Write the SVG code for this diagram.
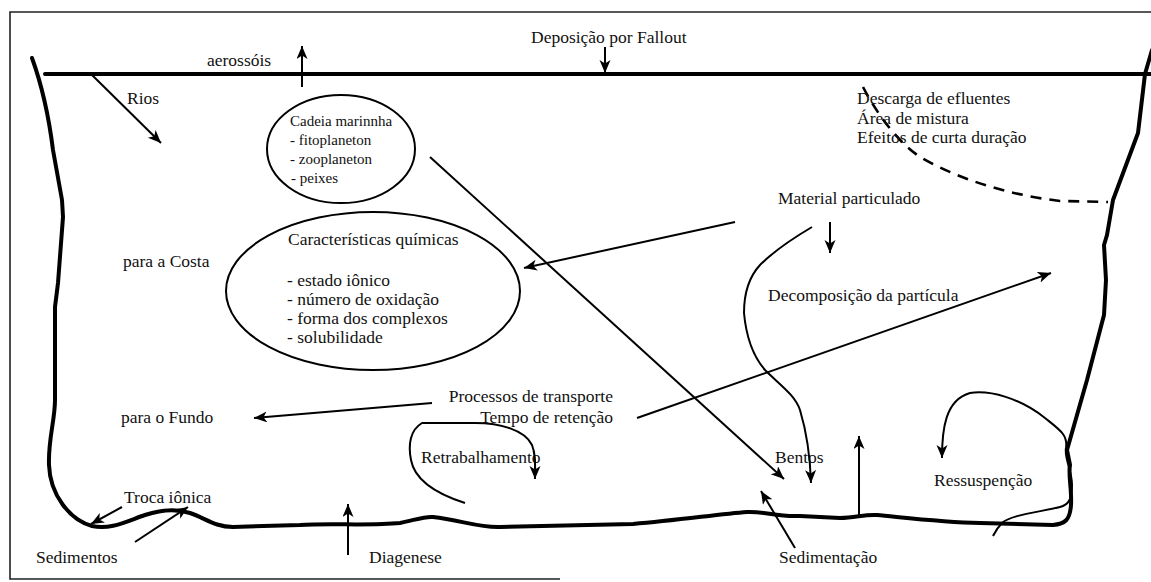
<svg xmlns="http://www.w3.org/2000/svg" width="1151" height="582" viewBox="0 0 1151 582">
<style>
text{font-family:"Liberation Serif","Times New Roman",serif;font-size:17.5px;fill:#111}
.sm{font-size:15px}
.frame{fill:none;stroke:#222;stroke-width:1.6}
.thick{fill:none;stroke:#000;stroke-width:4;stroke-linejoin:round;stroke-linecap:round}
.thin{fill:none;stroke:#000;stroke-width:2}
.arr{fill:none;stroke:#000;stroke-width:2;marker-end:url(#ah)}
.node{fill:none;stroke:#000;stroke-width:2}
.dash{fill:none;stroke:#000;stroke-width:2.6;stroke-dasharray:11 8}
</style>
<defs>
<marker id="ah" markerUnits="userSpaceOnUse" markerWidth="14" markerHeight="12" refX="13" refY="5.5" orient="auto" viewBox="0 0 14 12">
<path d="M0,0 L13,5.5 L0,11 L3.5,5.5 z" fill="#000"/>
</marker>
</defs>
<rect width="1151" height="582" fill="#fff"/>
<g id="frame">
<path class="frame" d="M1151,12 H10 V579 H560"/>
</g>
<g id="surface">
<line class="thick" x1="45" y1="74" x2="1151" y2="74"/>
</g>
<g id="shore">
<path class="thick" d="M32,58 C40,80 48,110 53,150 L62,200 L63,217 L58,283 L55,307 L55,400 C55,420 48,440 49,465 C50,495 70,520 92,526 C110,530 125,522 145,515 C160,510 175,508 190,513 C205,518 215,527 233,527 L300,525 C330,523 370,526 400,523 C415,520 425,516 433,517 C460,520 480,528 500,527 L633,524 C680,520 720,514 747,512 C765,511 775,517 800,516 L840,518 C855,518 865,514 877,515 C900,517 940,522 980,523 L1053,525 C1065,524 1070,520 1071,505 C1072,490 1068,475 1070,465 L1067,450 L1087,380 L1104,315 L1106,280 L1104,245 L1107,235 L1113,200 L1138,133 L1145,74 L1152,50"/>
</g>
<g id="mixing-zone">
<path class="dash" d="M863,87 C875,110 895,140 920,157 C960,180 1010,195 1060,201 L1108,202"/>
</g>
<g id="node-cadeia">
<ellipse class="node" cx="341" cy="149" rx="74" ry="54"/>
<text class="sm" x="290" y="126">Cadeia marinnha</text>
<text class="sm" x="290" y="145">- fitoplaneton</text>
<text class="sm" x="290" y="164">- zooplaneton</text>
<text class="sm" x="291" y="183">- peixes</text>
</g>
<g id="node-quimicas">
<ellipse class="node" cx="373" cy="291" rx="147" ry="79"/>
<text x="288" y="245">Características químicas</text>
<text x="287" y="286">- estado iônico</text>
<text x="287" y="305">- número de oxidação</text>
<text x="287" y="324">- forma dos complexos</text>
<text x="287" y="343">- solubilidade</text>
</g>
<g id="labels">
<text x="531" y="43">Deposição por Fallout</text>
<text x="207" y="66">aerossóis</text>
<text x="127" y="104">Rios</text>
<text x="857" y="104">Descarga de efluentes</text>
<text x="857" y="124">Área de mistura</text>
<text x="857" y="143">Efeitos de curta duração</text>
<text x="778" y="204">Material particulado</text>
<text x="123" y="267">para a Costa</text>
<text x="768" y="301">Decomposição da partícula</text>
<text x="613" y="402" text-anchor="end">Processos de transporte</text>
<text x="613" y="423" text-anchor="end">Tempo de retenção</text>
<text x="121" y="423">para o Fundo</text>
<text x="421" y="463">Retrabalhamento</text>
<text x="775" y="463">Bentos</text>
<text x="934" y="486">Ressuspenção</text>
<text x="124" y="503">Troca iônica</text>
<text x="36" y="563">Sedimentos</text>
<text x="369" y="563">Diagenese</text>
<text x="779" y="563">Sedimentação</text>
</g>
<g id="connectors">
<line class="arr" x1="302" y1="87" x2="302" y2="46"/>
<line class="arr" x1="605" y1="47" x2="605" y2="73"/>
<line class="arr" x1="92" y1="75" x2="161" y2="143"/>
<line class="arr" x1="430" y1="157" x2="784" y2="479"/>
<line class="arr" x1="735" y1="222" x2="524" y2="268"/>
<line class="arr" x1="830" y1="222" x2="830" y2="253"/>
<line class="arr" x1="432" y1="403" x2="254" y2="418"/>
<line class="arr" x1="637" y1="418" x2="1051" y2="273"/>
<path class="arr" d="M812,227 C790,240 770,255 760,265 C748,278 744,295 744,313 C746,335 752,355 765,370 C780,385 795,395 800,410 C806,430 810,450 811,483"/>
<path class="arr" d="M465,503 C440,495 415,482 411,460 C408,445 410,430 422,423 L475,423 C500,423 525,430 532,445 C536,455 535,465 535,479"/>
<path class="arr" d="M993,536 C995,532 997,528 1002,523 C1010,515 1040,512 1060,507 C1068,505 1072,500 1072,485 C1072,470 1064,458 1066,448 C1068,435 1060,430 1045,418 C1020,398 990,390 970,393 C945,400 942,430 942,458"/>
<line class="arr" x1="859" y1="517" x2="859" y2="436"/>
<line class="arr" x1="795" y1="548" x2="761" y2="491"/>
<line class="arr" x1="122" y1="507" x2="91" y2="524"/>
<line class="arr" x1="135" y1="542" x2="188" y2="507"/>
<line class="arr" x1="348" y1="555" x2="348" y2="504"/>
</g>
</svg>
